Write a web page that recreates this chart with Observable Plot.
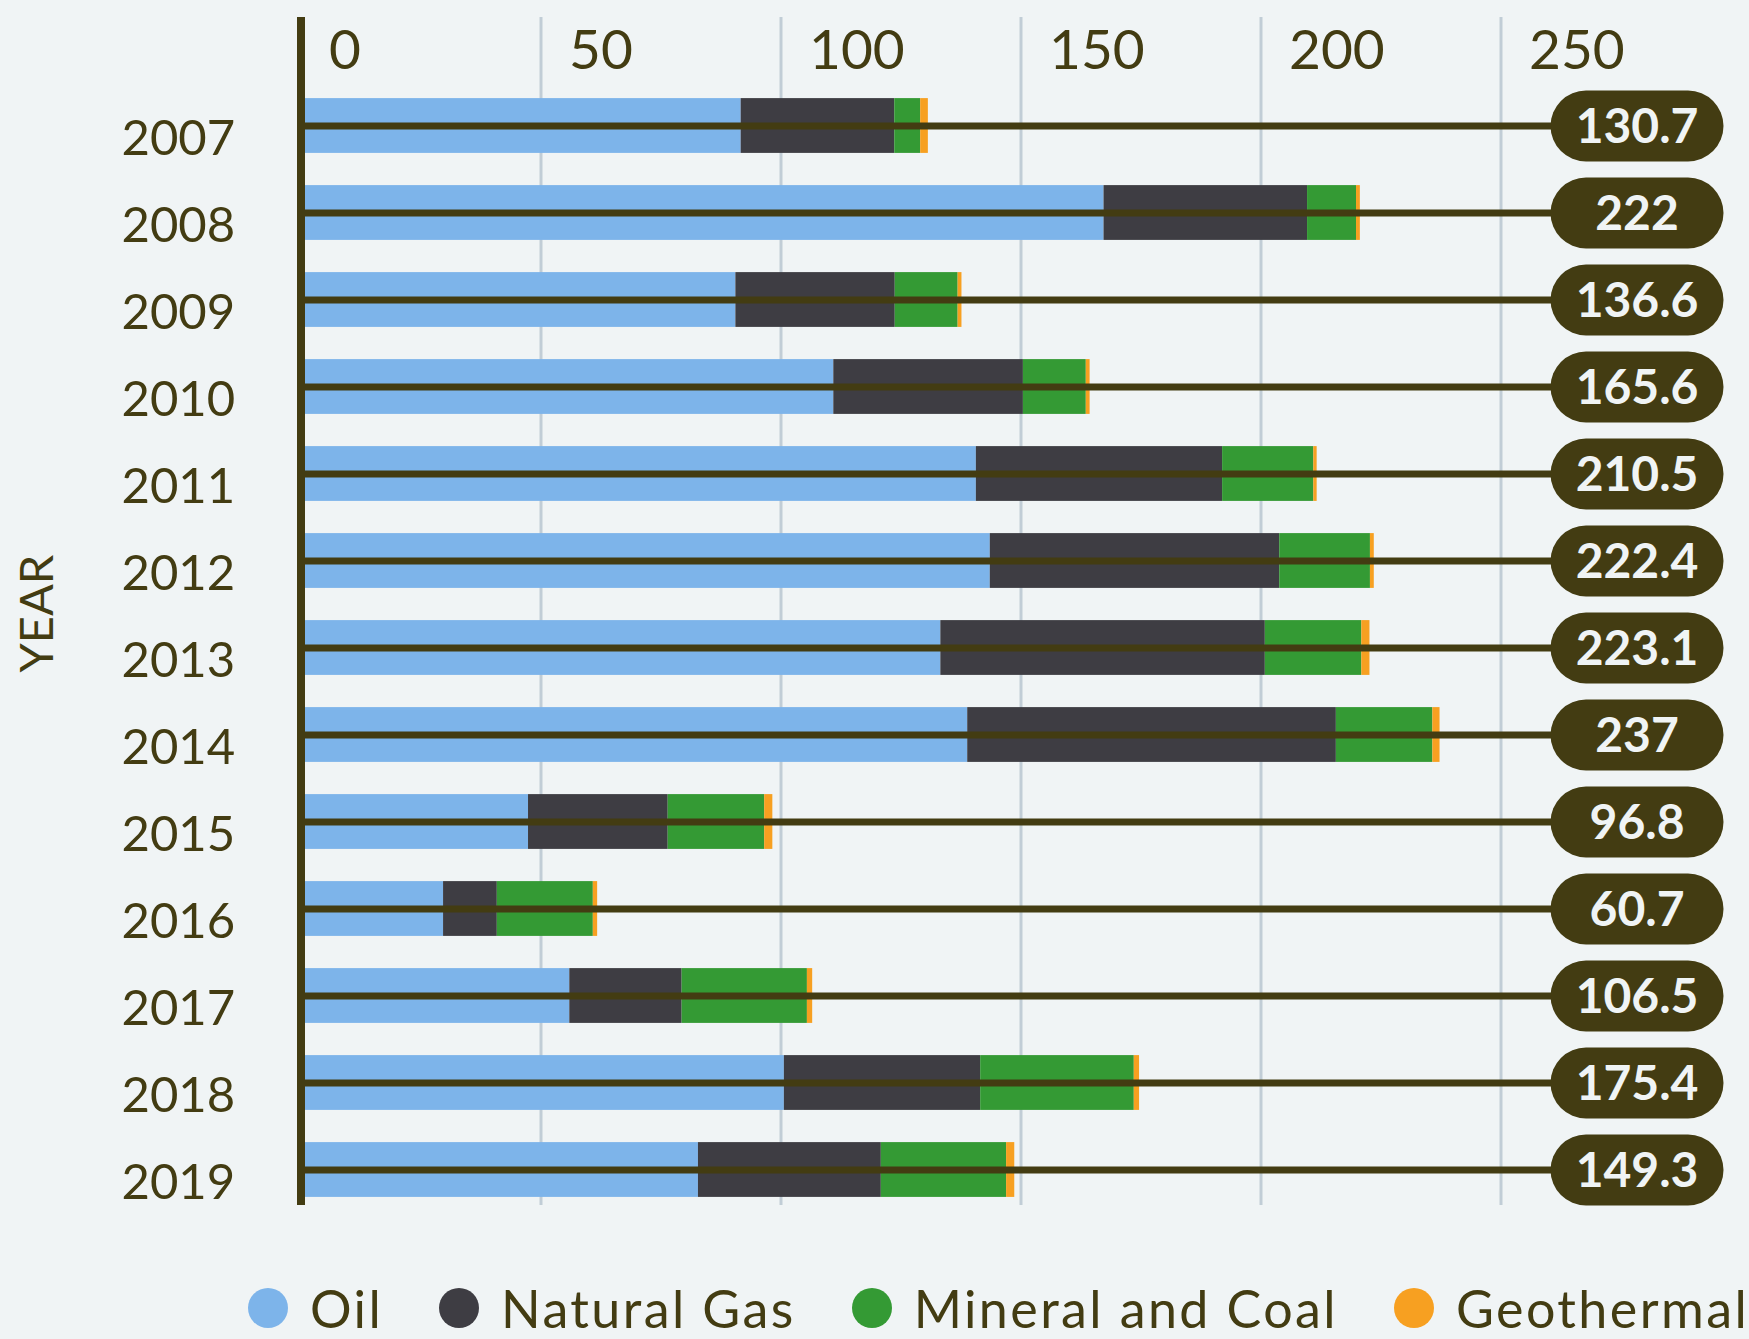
<!DOCTYPE html>
<html>
<head>
<meta charset="utf-8">
<script src="https://cdn.jsdelivr.net/npm/d3@7"></script>
<script src="https://cdn.jsdelivr.net/npm/@observablehq/plot@0.6"></script>
<style>
  html, body { margin: 0; padding: 0; background: #f0f4f5; }
  body { width: 1749px; height: 1339px; overflow: hidden; font-family: Lato, sans-serif; }
  #chart svg { display: block; }
  #legend { display: flex; align-items: center; height: 62px; padding-left: 248px; gap: 56px; color: #433c12; font-size: 52px; line-height: 62px; letter-spacing: 2.4px; white-space: nowrap; }
  .item { display: flex; align-items: center; height: 62px; }
  .sw { width: 40px; height: 40px; border-radius: 50%; margin-right: 22px; flex: none; }
</style>
</head>
<body>
<div id="chart"></div>
<div id="legend"></div>
<script>
const years = ["2007","2008","2009","2010","2011","2012","2013","2014","2015","2016","2017","2018","2019"];
const oil         = [91.7, 167.3, 90.6, 111.0, 140.7, 143.6, 133.3, 138.9, 47.4, 29.7, 56.0, 100.7, 82.8];
const naturalGas  = [32.0, 42.4, 33.2, 39.5, 51.3, 60.3, 67.6, 76.8, 29.1, 11.2, 23.4, 40.9, 38.1];
const mineralCoal = [5.4, 10.2, 13.1, 13.1, 19.0, 18.9, 20.1, 20.1, 20.1, 20.0, 26.1, 32.0, 26.1];
const geothermal  = [1.6, 0.8, 0.8, 0.8, 0.7, 0.8, 1.7, 1.5, 1.7, 0.9, 1.1, 1.1, 1.7];
const totals = ["130.7","222","136.6","165.6","210.5","222.4","223.1","237","96.8","60.7","106.5","175.4","149.3"];
const xTicks = [0, 50, 100, 150, 200, 250];
const gridTicks = [50, 100, 150, 200, 250];
const seriesNames = ["Oil", "Natural Gas", "Mineral and Coal", "Geothermal"];
const seriesColors = ["#7db4ea", "#3e3d43", "#349a34", "#f7a021"];
const axisTitle = "YEAR";

const dark = "#433c12";
const bg = "#f0f4f5";
const seriesValues = [oil, naturalGas, mineralCoal, geothermal];

const rows = years.flatMap((year, i) =>
  seriesNames.map((series, k) => ({year, series, value: seriesValues[k][i]})));
const totalRows = years.map((year, i) => ({year, total: totals[i]}));

const pill = {
  draw(ctx) {
    const w = 173, h = 71, r = h / 2;
    ctx.moveTo(-w / 2 + r, -h / 2);
    ctx.lineTo(w / 2 - r, -h / 2);
    ctx.arc(w / 2 - r, 0, r, -Math.PI / 2, Math.PI / 2);
    ctx.lineTo(-w / 2 + r, h / 2);
    ctx.arc(-w / 2 + r, 0, r, Math.PI / 2, 3 * Math.PI / 2);
    ctx.closePath();
  }
};

const W = 1749, H = 1277;
const chart = Plot.plot({
  width: W,
  height: H,
  marginLeft: 300,
  marginRight: 112.5,
  marginTop: 17,
  marginBottom: 72,
  style: {background: "transparent", fontFamily: "Lato, sans-serif", color: dark},
  x: {domain: [0, 250], range: [300.5, 1500.5]},
  y: {type: "band", domain: years, range: [81.1, 1214.6], padding: 0},
  color: {domain: seriesNames, range: seriesColors},
  marks: [
    Plot.ruleX(gridTicks, {stroke: "#c1cdd6", strokeWidth: 3}),
    Plot.barX(rows, Plot.stackX({y: "year", x: "value", fill: "series", order: seriesNames, insetTop: 16.1, insetBottom: 16.1})),
    Plot.ruleY(totalRows, {y: "year", stroke: dark, strokeWidth: 7}),
    Plot.ruleX([0], {stroke: dark, strokeWidth: 8}),
    Plot.axisX(xTicks, {anchor: "top", tickSize: 0, tickPadding: 0, lineAnchor: "middle", dy: 33.6, dx: 28, textAnchor: "start", fontSize: 55, fill: dark, label: null}),
    Plot.axisY({tickSize: 0, tickPadding: 0, textAnchor: "start", dx: -179, dy: 13.4, fontSize: 49, fill: dark, label: null}),
    Plot.text([axisTitle], {frameAnchor: "left", rotate: -90, dx: -263, dy: 61, fontSize: 47, fill: dark}),
    Plot.dot(totalRows, {y: "year", frameAnchor: "right", symbol: pill, fill: dark, stroke: null}),
    Plot.text(totalRows, {y: "year", text: "total", frameAnchor: "right", textAnchor: "middle", dy: 2, fontSize: 48, fontWeight: 700, fill: bg})
  ]
});
document.getElementById("chart").appendChild(chart);

const legend = document.getElementById("legend");
seriesNames.forEach((name, k) => {
  const item = document.createElement("div");
  item.className = "item";
  const sw = document.createElement("span");
  sw.className = "sw";
  sw.style.background = seriesColors[k];
  const label = document.createElement("span");
  label.textContent = name;
  item.appendChild(sw);
  item.appendChild(label);
  legend.appendChild(item);
});
</script>
</body>
</html>
